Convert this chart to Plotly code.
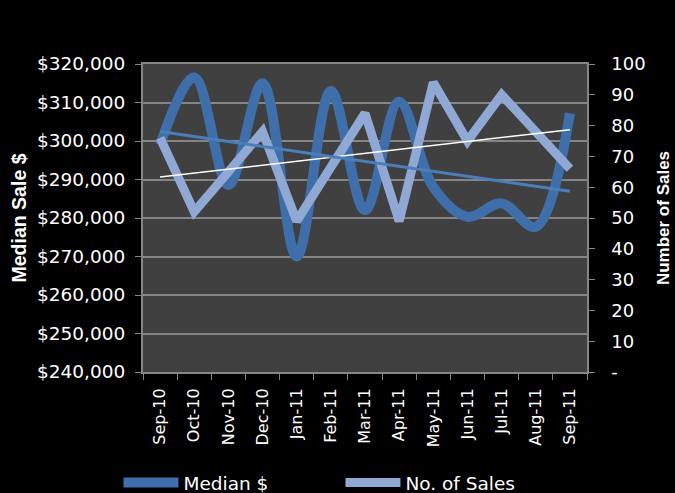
import numpy as np
import plotly.graph_objects as go

months = ["Sep-10", "Oct-10", "Nov-10", "Dec-10", "Jan-11", "Feb-11", "Mar-11",
          "Apr-11", "May-11", "Jun-11", "Jul-11", "Aug-11", "Sep-11"]
median_price = [299000, 316500, 288600, 315000, 270000, 313000, 282000,
                310200, 288000, 280300, 283800, 277700, 307200]
num_sales = [76, 52, 65, 78, 49, 67, 84, 49, 94, 75, 90, 78, 66]
sales_ticks = [0, 10, 20, 30, 40, 50, 60, 70, 80, 90, 100]
sales_tick_text = ["-", "10", "20", "30", "40", "50", "60", "70", "80", "90", "100"]

idx = np.arange(len(months))
m_fit = np.polyval(np.polyfit(idx, median_price, 1), idx)
s_fit = np.polyval(np.polyfit(idx, num_sales, 1), idx)

FONT = "DejaVu Sans, Arial, sans-serif"
BFONT = "Liberation Sans, Arial, sans-serif"
GRID = "#858585"

W, H = 675, 493
ML, MR, MT, MB = 143, 60, 64, 121
PLOT_W = W - ML - MR
X_DOMAIN_END = 444 / PLOT_W
MEDIAN_RANGE = [240000, 320000]
SALES_RANGE = [0, 100]

fig = go.Figure()
fig.add_trace(go.Scatter(x=months, y=median_price, name="Median $", mode="lines",
                         line=dict(color="#3F6FAB", width=10, shape="spline", smoothing=1.0),
                         yaxis="y"))
fig.add_trace(go.Scatter(x=months, y=num_sales, name="No. of Sales", mode="lines",
                         line=dict(color="#8FA9D4", width=9), yaxis="y2"))
fig.add_trace(go.Scatter(x=months, y=s_fit, mode="lines", showlegend=False,
                         line=dict(color="#FFFFFF", width=1.5), yaxis="y3", hoverinfo="skip"))
fig.add_trace(go.Scatter(x=months, y=m_fit, mode="lines", showlegend=False,
                         line=dict(color="#4A7EBB", width=3), yaxis="y4", hoverinfo="skip"))

fig.update_layout(
    width=W, height=H,
    paper_bgcolor="#000000", plot_bgcolor="#404040",
    margin=dict(l=ML, r=MR, t=MT, b=MB, autoexpand=False),
    font=dict(family=FONT, color="#FFFFFF", size=18),
    showlegend=True,
    legend=dict(orientation="h", x=-0.052, y=-0.36, xanchor="left", yanchor="middle",
                font=dict(size=18.5, color="#FFFFFF"), bgcolor="rgba(0,0,0,0)",
                itemwidth=55, entrywidth=152, tracegroupgap=0),
    xaxis=dict(type="category", domain=[0, X_DOMAIN_END], tickson="boundaries",
               ticks="outside", ticklen=6,
               tickcolor=GRID, showline=True, linecolor=GRID, linewidth=2, mirror=True,
               showgrid=False, tickangle=-90, tickfont=dict(size=16, color="#FFFFFF"),
               ticklabelstandoff=8, range=[-0.5, 12.5]),
    yaxis=dict(range=MEDIAN_RANGE, dtick=10000, tickformat="$,.0f",
               showgrid=True, gridcolor=GRID, gridwidth=2, zeroline=False,
               showline=True, linecolor=GRID, linewidth=2, ticks="outside", ticklen=6,
               tickcolor=GRID, tickfont=dict(size=18.5, color="#FFFFFF"),
               ticklabelstandoff=6,
               title=dict(text="<b>Median Sale $</b>",
                          font=dict(family=BFONT, size=19.5, color="#FFFFFF"),
                          standoff=5)),
    yaxis2=dict(range=SALES_RANGE, tickvals=sales_ticks, showticklabels=False,
                overlaying="y", side="right", anchor="x", showgrid=False, zeroline=False,
                showline=True, linecolor=GRID, linewidth=2, ticks="outside", ticklen=6,
                tickcolor=GRID),
    yaxis3=dict(range=SALES_RANGE, tickvals=sales_ticks, ticktext=sales_tick_text,
                overlaying="y", side="right", anchor="free", position=0.99,
                showgrid=False, zeroline=False, showline=False, ticks="",
                tickfont=dict(size=18, color="#FFFFFF"),
                title=dict(text="<b>Number of Sales</b>",
                           font=dict(family=BFONT, size=17, color="#FFFFFF"),
                           standoff=12)),
    yaxis4=dict(range=MEDIAN_RANGE, overlaying="y", visible=False, showgrid=False,
                zeroline=False),
)

fig.write_html("out.html")
